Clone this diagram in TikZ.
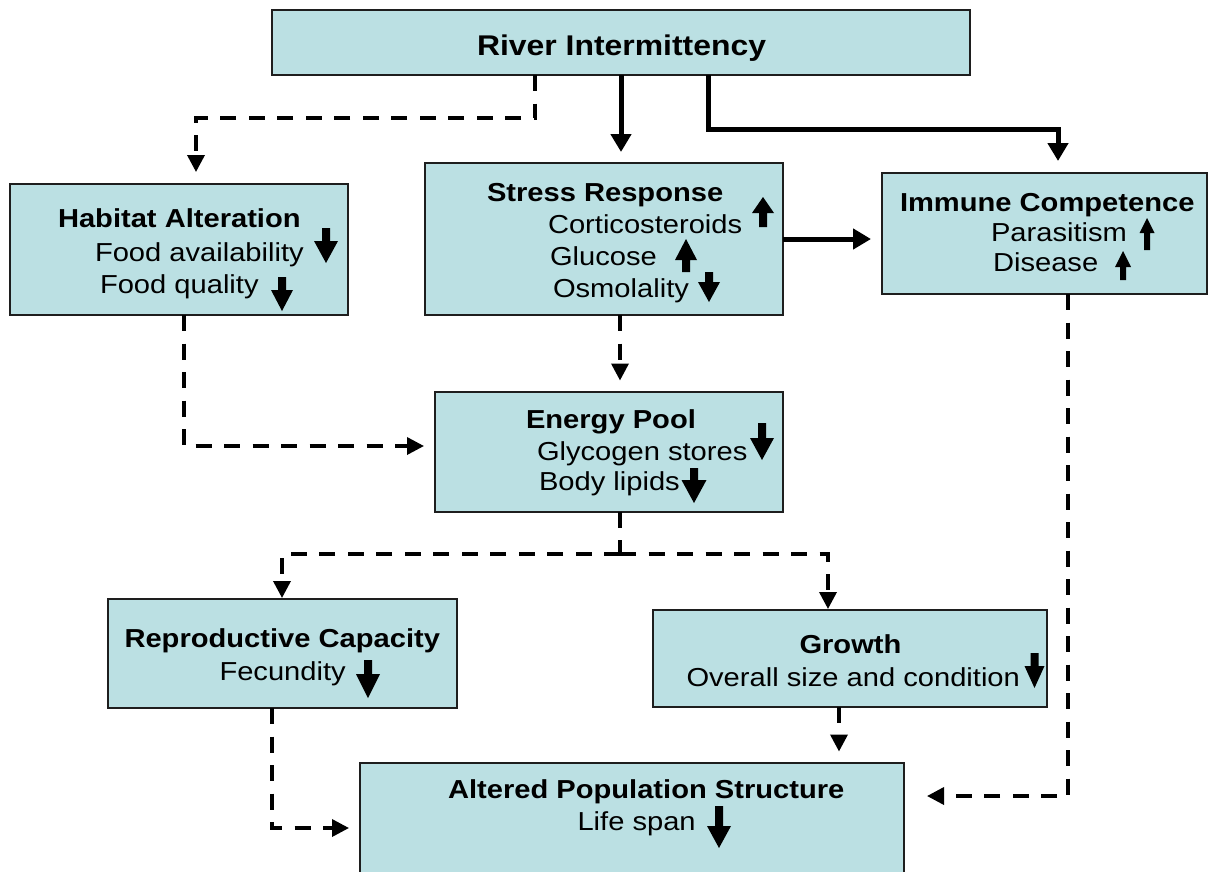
\documentclass[tikz,border=0pt]{standalone}
\usepackage{fontspec}
\setmainfont{Liberation Sans}[FakeStretch=1.12]
\usetikzlibrary{arrows.meta}
\definecolor{boxfill}{RGB}{187,224,227}
\definecolor{boxline}{RGB}{30,30,30}
\begin{document}
\begin{tikzpicture}[x=1pt,y=-1pt,
  box/.style={draw=boxline,line width=2pt,fill=boxfill,rectangle,inner sep=0pt,outer sep=0pt},
  txt/.style={anchor=base west,inner sep=0pt,outer sep=0pt,font=\fontsize{26}{30}\selectfont},
  ttl/.style={txt,font=\fontsize{26}{30}\selectfont\bfseries},
  sline/.style={line width=5pt,-{Triangle[width=20pt,length=18pt]}},
  dline/.style={line width=3.5pt,dash pattern=on 16pt off 12.5pt,-{Triangle[width=17pt,length=17pt]}},
  pics/dn/.style args={#1/#2/#3/#4}{code={\fill (-#4,0) -- (-#4,#1-#2) -- (-#3,#1-#2) -- (0,#1) -- (#3,#1-#2) -- (#4,#1-#2) -- (#4,0) -- cycle;}},
  pics/up/.style args={#1/#2/#3/#4}{code={\fill (0,0) -- (#3,#2) -- (#4,#2) -- (#4,#1) -- (-#4,#1) -- (-#4,#2) -- (-#3,#2) -- cycle;}}
]
\useasboundingbox (0,0) rectangle (1210,871);

% boxes
\node[box,minimum width=698pt,minimum height=65pt] (river) at (621,42.5) {};
\node[box,minimum width=338pt,minimum height=131pt] (habitat) at (179,249.5) {};
\node[box,minimum width=358pt,minimum height=152pt] (stress) at (604,239) {};
\node[box,minimum width=325pt,minimum height=121pt] (immune) at (1044.5,233.5) {};
\node[box,minimum width=348pt,minimum height=120pt] (energy) at (609,451.5) {};
\node[box,minimum width=349pt,minimum height=109pt] (repro) at (282.5,653.5) {};
\node[box,minimum width=394pt,minimum height=97pt] (growth) at (850,658.5) {};
\node[box,minimum width=544pt,minimum height=120pt] (altered) at (632,822.5) {};

% texts
\node[ttl,font=\fontsize{28.5}{32}\selectfont\bfseries] (t-river) at (477,55) {River Intermittency};

\node[ttl] (t-hab) at (58,227) {Habitat Alteration};
\node[txt] (t-fa) at (95,261) {Food availability};
\node[txt] (t-fq) at (100,293) {Food quality};

\node[ttl] (t-str) at (487,201) {Stress Response};
\node[txt] (t-cort) at (548,233) {Corticosteroids};
\node[txt] (t-glu) at (550,265) {Glucose};
\node[txt] (t-osm) at (553,297) {Osmolality};

\node[ttl] (t-imm) at (900,211) {Immune Competence};
\node[txt] (t-par) at (991,241) {Parasitism};
\node[txt] (t-dis) at (993,271) {Disease};

\node[ttl] (t-en) at (526,428) {Energy Pool};
\node[txt] (t-gly) at (537,460) {Glycogen stores};
\node[txt] (t-lip) at (539,490) {Body lipids};

\node[ttl] (t-rep) at (124.5,647) {Reproductive Capacity};
\node[txt] (t-fec) at (219.5,680) {Fecundity};

\node[ttl] (t-gro) at (799.5,653) {Growth};
\node[txt] (t-ovr) at (686.5,686) {Overall size and condition};

\node[ttl] (t-alt) at (448,798) {Altered Population Structure};
\node[txt] (t-life) at (577.5,830) {Life span};

% small block arrows in the texts
\pic at (326,228) {dn=35/22/12/4};
\pic at (282,277) {dn=34/21/11/4};
\pic at (763,197) {up=30/16/11/4};
\pic at (686,239) {up=33/21/11/4};
\pic at (709,272) {dn=30/20/11/4};
\pic at (1147,218) {up=32/15/7.5/3};
\pic at (1123,251) {up=29/16/8/3};
\pic at (762,423) {dn=37/22/12/4};
\pic at (694,468) {dn=35/23/12.5/4};
\pic at (368,660) {dn=38/24/12/4};
\pic at (1034.5,653) {dn=35/22/10/4};
\pic at (719,806) {dn=42/22/12/4};

% helper coordinates
\coordinate (ra) at (535,118);
\coordinate (hx) at (196,0);
\coordinate (ib) at (708,129);
\coordinate (ic) at (1058,0);
\coordinate (se) at (620,0);
\coordinate (ha) at (184,446);
\coordinate (eb) at (620,554);
\coordinate (rb) at (282,554);
\coordinate (gb) at (828,554);
\coordinate (rc) at (272,828);
\coordinate (ga) at (839,0);
\coordinate (ia) at (1068,796);

% connectors
\draw[dline,shorten >=12pt] (river.south -| ra) -- (ra) -| (habitat.north -| hx);
\draw[sline,shorten >=11pt] (river.south) -- (river.south |- stress.north);
\draw[sline,shorten >=12pt] (river.south -| ib) -- (ib) -| (immune.north -| ic);
\draw[sline,shorten >=11pt] (stress.east) -- (stress.east -| immune.west);
\draw[dline,shorten >=11pt] (stress.south -| se) -- (energy.north -| se);
\draw[dline,shorten >=11pt] (habitat.south -| ha) -- (ha) -- (energy.west |- ha);
\draw[dline,-] (energy.south -| eb) -- (eb);
\draw[dline,shorten >=1pt] (eb) -- (rb) -- (repro.north -| rb);
\draw[dline,shorten >=1pt] (eb) -- (gb) -- (growth.north -| gb);
\draw[dline,shorten >=11pt] (repro.south -| rc) -- (rc) -- (altered.west |- rc);
\draw[dline,shorten >=11pt] (growth.south -| ga) -- (altered.north -| ga);
\draw[dline,shorten >=23pt] (immune.south -| ia) -- (ia) -- (altered.east |- ia);
\end{tikzpicture}
\end{document}
